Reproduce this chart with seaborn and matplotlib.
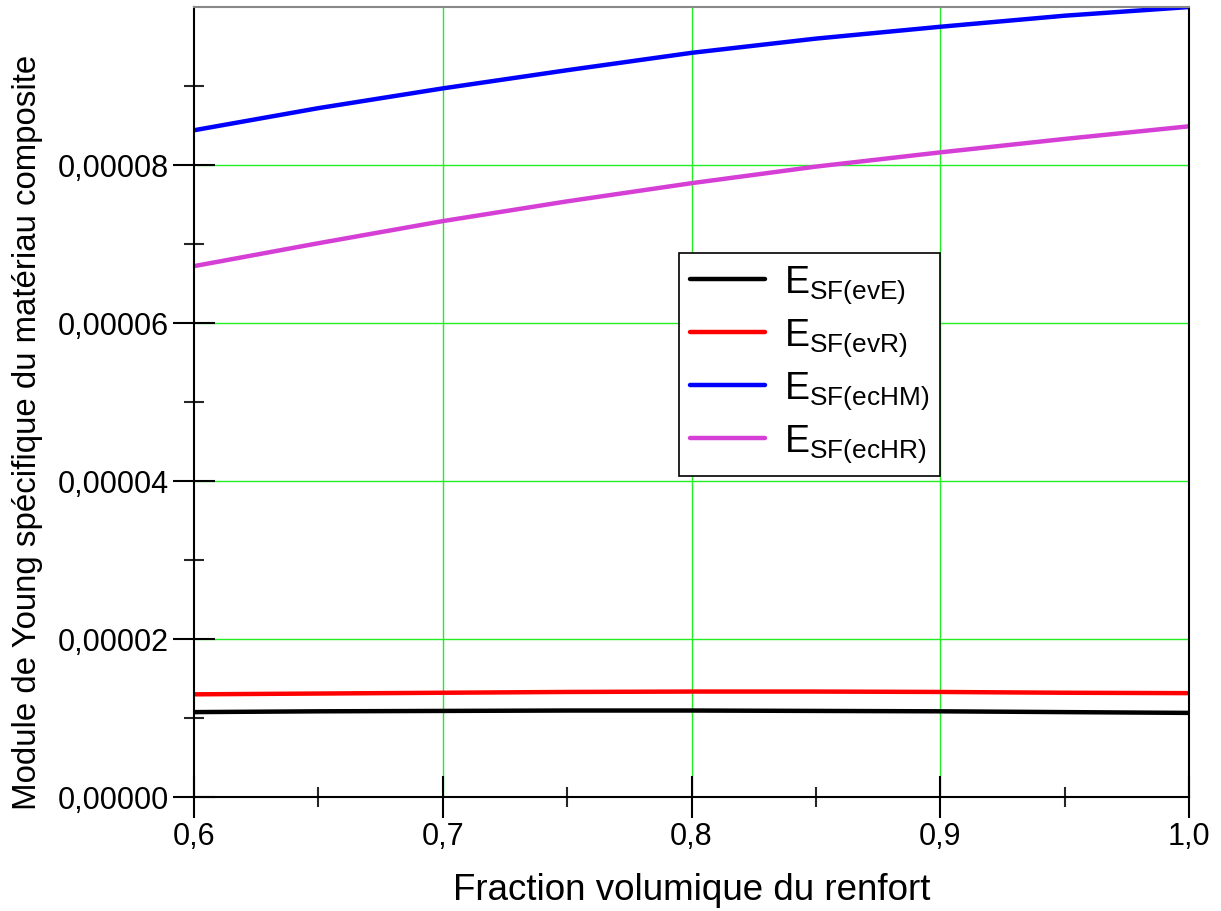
import matplotlib
matplotlib.use("Agg")
import matplotlib.pyplot as plt
import matplotlib.ticker as mticker
import numpy as np
import pandas as pd
import seaborn as sns

# Fraction volumique du renfort
fraction = [0.60, 0.65, 0.70, 0.75, 0.80, 0.85, 0.90, 0.95, 1.00]

# Module de Young spécifique pour chaque modèle
e_evE = [10.75e-6, 10.85e-6, 10.90e-6, 10.95e-6, 10.95e-6, 10.90e-6, 10.85e-6, 10.75e-6, 10.65e-6]
e_evR = [13.00e-6, 13.10e-6, 13.20e-6, 13.30e-6, 13.35e-6, 13.35e-6, 13.30e-6, 13.20e-6, 13.15e-6]
e_ecHM = [84.4e-6, 87.2e-6, 89.7e-6, 92.0e-6, 94.2e-6, 96.0e-6, 97.5e-6, 98.9e-6, 100.0e-6]
e_ecHR = [67.2e-6, 70.1e-6, 72.9e-6, 75.4e-6, 77.7e-6, 79.8e-6, 81.6e-6, 83.3e-6, 84.9e-6]

series_labels = [r"$\mathregular{E_{SF(evE)}}$", r"$\mathregular{E_{SF(evR)}}$",
                 r"$\mathregular{E_{SF(ecHM)}}$", r"$\mathregular{E_{SF(ecHR)}}$"]
series_values = [e_evE, e_evR, e_ecHM, e_ecHR]
colors = ["#000000", "#ff0000", "#0000ff", "#d63fd6"]

x_major = [0.6, 0.7, 0.8, 0.9, 1.0]
x_minor = [0.65, 0.75, 0.85, 0.95]
y_major = [0.0, 0.00002, 0.00004, 0.00006, 0.00008]
y_minor = [0.00001, 0.00003, 0.00005, 0.00007, 0.00009]

df = pd.concat(
    [pd.DataFrame({"x": fraction, "y": vals, "serie": lab})
     for lab, vals in zip(series_labels, series_values)],
    ignore_index=True,
)

sns.set_theme(style="white")
plt.rcParams["font.family"] = ["Liberation Sans", "DejaVu Sans"]
plt.rcParams["mathtext.fontset"] = "custom"
plt.rcParams["mathtext.rm"] = "Liberation Sans"
plt.rcParams["text.color"] = "black"
plt.rcParams["axes.labelcolor"] = "black"

fig = plt.figure(figsize=(12.21, 9.11), dpi=100)
ax = fig.add_axes([0.1589, 0.1251, 0.8149, 0.8672])

sns.lineplot(data=df, x="x", y="y", hue="serie", palette=colors,
             hue_order=series_labels, linewidth=3.2, ax=ax)

ax.set_xlim(0.6, 1.0)
ax.set_ylim(0, 0.0001)

ax.xaxis.set_major_locator(mticker.FixedLocator(x_major))
ax.xaxis.set_minor_locator(mticker.FixedLocator(x_minor))
ax.yaxis.set_major_locator(mticker.FixedLocator(y_major))
ax.yaxis.set_minor_locator(mticker.FixedLocator(y_minor))

ax.xaxis.set_major_formatter(mticker.FuncFormatter(lambda v, p: f"{v:.1f}".replace(".", ",")))
ax.yaxis.set_major_formatter(mticker.FuncFormatter(lambda v, p: f"{v:.5f}".replace(".", ",")))

ax.tick_params(axis="both", which="major", direction="inout", length=30, width=1.5,
               labelsize=22, colors="black", pad=3, bottom=True, left=True)
ax.tick_params(axis="both", which="minor", direction="inout", length=15, width=1.5,
               bottom=True, left=True)

# Grille verte aux graduations principales
for v in [0.7, 0.8, 0.9]:
    ax.axvline(v, color="#22ee22", lw=1.0, zorder=0)
for v in [0.00002, 0.00004, 0.00006, 0.00008]:
    ax.axhline(v, color="#22ee22", lw=1.0, zorder=0)

for side in ["left", "bottom", "right"]:
    ax.spines[side].set_color("black")
    ax.spines[side].set_linewidth(1.5)
ax.spines["top"].set_color("#888888")
ax.spines["top"].set_linewidth(1.5)

ax.set_xlabel("Fraction volumique du renfort", fontsize=26.5, labelpad=15)
ax.set_ylabel("Module de Young spécifique du matériau composite", fontsize=23.8)
ax.yaxis.set_label_coords(-0.152, 0.461)

leg = ax.legend(loc="upper left", bbox_to_anchor=(0.487, 0.689), borderaxespad=0,
                fontsize=27, frameon=True, fancybox=False, handlelength=2.0,
                handletextpad=0.5, labelspacing=0.3, borderpad=0.3)
leg.get_frame().set_edgecolor("black")
leg.get_frame().set_linewidth(1.2)
leg.get_frame().set_alpha(1)
for line in leg.get_lines():
    line.set_linewidth(3.2)

fig.savefig("out.png", dpi=100)
